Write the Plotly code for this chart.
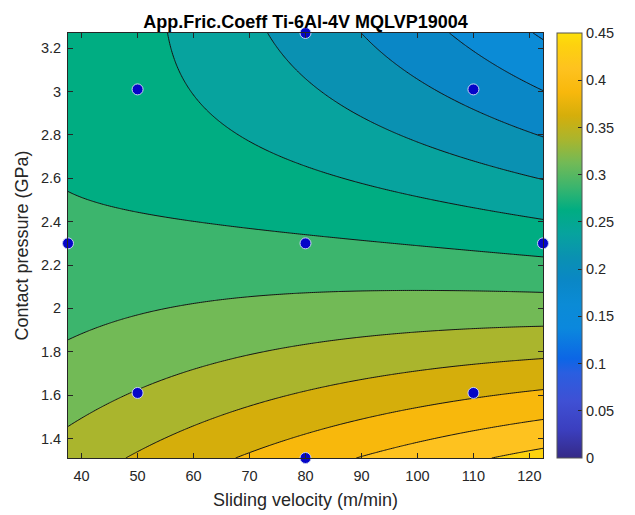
import numpy as np
import plotly.graph_objects as go
from plotly.colors import sample_colorscale

# ---- measurements: central composite design (velocity x pressure) ----
velocity = [37.57, 50, 50, 80, 80, 80, 110, 110, 122.43]          # m/min
pressure = [2.30, 3.01, 1.61, 3.27, 2.30, 1.31, 3.01, 1.61, 2.30]  # GPa
friction = [0.2812, 0.2592, 0.3262, 0.2151, 0.2785, 0.3898, 0.1910, 0.3710, 0.2658]

x_ticks = [40, 50, 60, 70, 80, 90, 100, 110, 120]
y_ticks = [1.4, 1.6, 1.8, 2.0, 2.2, 2.4, 2.6, 2.8, 3.0, 3.2]
y_tick_text = ["1.4", "1.6", "1.8", "2", "2.2", "2.4", "2.6", "2.8", "3", "3.2"]
cbar_ticks = [0, 0.05, 0.1, 0.15, 0.2, 0.25, 0.3, 0.35, 0.4, 0.45]
cbar_tick_text = ["0", "0.05", "0.1", "0.15", "0.2", "0.25", "0.3", "0.35", "0.4", "0.45"]

C_MIN, C_MAX = 0.0, 0.45
LEVEL_START, LEVEL_END, LEVEL_STEP = 0.15, 0.425, 0.025

# parula-like colour map over [C_MIN, C_MAX] (value, colour)
PARULA = [
    (0.000, "#352a87"), (0.030, "#3b3fbf"), (0.060, "#3f50d4"), (0.090, "#2a5ee0"),
    (0.105, "#0c66e6"), (0.1375, "#0b88dd"), (0.1625, "#0b8bd6"), (0.1875, "#0a87c6"),
    (0.2125, "#0a91b2"), (0.2375, "#07a39e"), (0.2625, "#00ad82"), (0.2875, "#3cb56d"),
    (0.3125, "#72ba56"), (0.3375, "#aab52d"), (0.3625, "#d5ae0b"), (0.3875, "#f8b80c"),
    (0.4125, "#fec21f"), (0.4375, "#fdd20e"), (0.450, "#fde00b"),
]
parula_scale = [[v / C_MAX, c] for v, c in PARULA]

FONT = "Liberation Sans, Arial, Helvetica, sans-serif"
INK = "#262626"

# ---- second-order response surface fitted to the measurements ----
def coded(x, y):
    return (np.asarray(x) - 80.0) / 42.43, (np.asarray(y) - 2.29) / 0.98

def design(u, v):
    return np.column_stack([np.ones_like(u), u, v, u * v, u ** 2, v ** 2])

u_pts, v_pts = coded(velocity, pressure)
coef, *_ = np.linalg.lstsq(design(u_pts, v_pts), np.asarray(friction), rcond=None)

xs = np.linspace(min(velocity), max(velocity), 241)
ys = np.linspace(min(pressure), max(pressure), 241)
XX, YY = np.meshgrid(xs, ys)
UU, VV = coded(XX.ravel(), YY.ravel())
ZZ = (design(UU, VV) @ coef).reshape(XX.shape)

# each filled band takes the map colour at its mid value
n_levels = int(round((LEVEL_END - LEVEL_START) / LEVEL_STEP)) + 1
band_mid = [LEVEL_START - LEVEL_STEP / 2 + k * LEVEL_STEP for k in range(n_levels + 1)]
band_cols = sample_colorscale(parula_scale, [(m - C_MIN) / (C_MAX - C_MIN) for m in band_mid])
band_scale = [[k / n_levels, c] for k, c in enumerate(band_cols)]

fig = go.Figure()
fig.add_trace(go.Contour(
    x=xs, y=ys, z=ZZ,
    contours=dict(start=LEVEL_START, end=LEVEL_END, size=LEVEL_STEP, coloring="fill"),
    colorscale=band_scale, showscale=False,
    line=dict(color="#141414", width=1),
    hoverinfo="skip",
))
fig.add_trace(go.Scatter(
    x=velocity, y=pressure, mode="markers",
    marker=dict(size=11, color="#0505c8", line=dict(width=1, color="#c8d2f2")),
    cliponaxis=False, showlegend=False,
))
# colour bar for the full 0-0.45 range
fig.add_trace(go.Scatter(
    x=[80], y=[2.3], mode="markers", showlegend=False, hoverinfo="skip",
    marker=dict(size=1, opacity=0, color=[0.2], colorscale=parula_scale,
                cmin=C_MIN, cmax=C_MAX, showscale=True,
                colorbar=dict(
                    thickness=25, thicknessmode="pixels",
                    len=1, lenmode="fraction", y=0.5, yanchor="middle", ypad=0,
                    x=1.03, xanchor="left", xpad=0,
                    outlinewidth=1, outlinecolor="#555555",
                    tickvals=cbar_ticks, ticktext=cbar_tick_text,
                    ticks="inside", ticklen=4, tickcolor=INK,
                    tickfont=dict(family=FONT, size=14.5, color=INK),
                )),
))

axis_common = dict(
    showline=True, linecolor=INK, linewidth=1, mirror="ticks",
    ticks="inside", ticklen=5, tickcolor=INK, tickwidth=1,
    showgrid=False, zeroline=False, automargin=False,
    tickfont=dict(family=FONT, size=14.5, color=INK),
)
fig.update_xaxes(
    range=[min(velocity), max(velocity)], tickvals=x_ticks, ticklabelstandoff=5,
    title=dict(text="Sliding velocity (m/min)", font=dict(family=FONT, size=18, color=INK), standoff=9),
    **axis_common,
)
fig.update_yaxes(
    range=[min(pressure), max(pressure)], tickvals=y_ticks, ticktext=y_tick_text,
    ticklabelstandoff=3,
    title=dict(text="Contact pressure (GPa)", font=dict(family=FONT, size=18, color=INK), standoff=7),
    **axis_common,
)
fig.update_layout(
    width=635, height=515,
    margin=dict(l=68, r=92, t=33, b=57, autoexpand=False),
    paper_bgcolor="white", plot_bgcolor="white",
    title=dict(text="<b>App.Fric.Coeff Ti-6Al-4V MQLVP19004</b>",
               font=dict(family=FONT, size=18, color="#000000"),
               x=0.5, xref="paper", xanchor="center",
               y=1 - 22 / 515, yref="container", yanchor="middle"),
    showlegend=False,
)
fig.write_html("out.html")
